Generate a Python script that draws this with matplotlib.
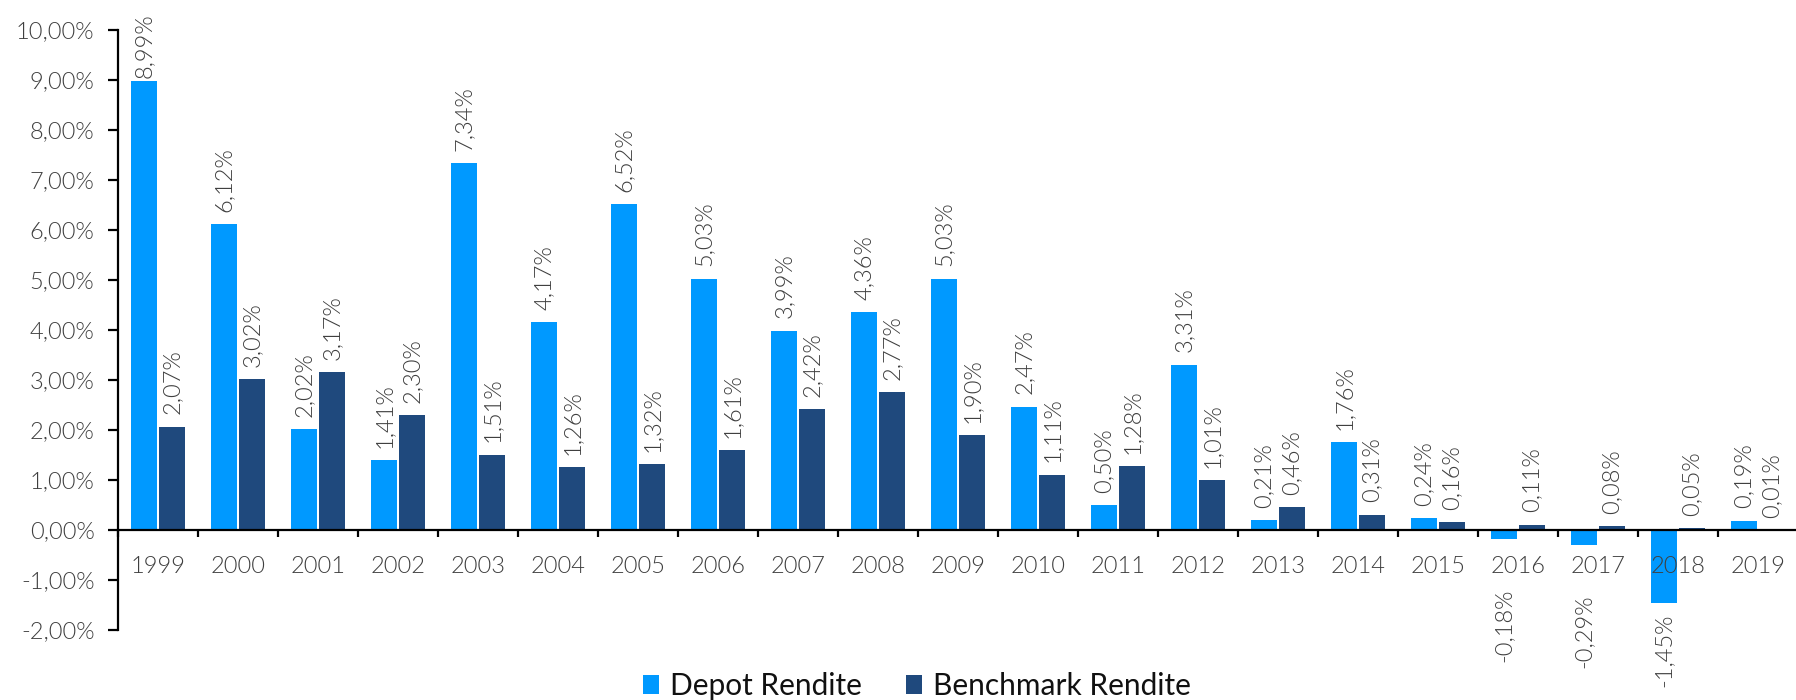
import matplotlib
matplotlib.use("Agg")
import matplotlib.pyplot as plt
import numpy as np
from matplotlib import font_manager as fm
from matplotlib.ticker import FixedLocator, FuncFormatter, NullFormatter
from matplotlib.patches import Patch

years = [str(y) for y in range(1999, 2020)]
depot = [8.99, 6.12, 2.02, 1.41, 7.34, 4.17, 6.52, 5.03, 3.99, 4.36, 5.03,
         2.47, 0.50, 3.31, 0.21, 1.76, 0.24, -0.18, -0.29, -1.45, 0.19]
bench = [2.07, 3.02, 3.17, 2.30, 1.51, 1.26, 1.32, 1.61, 2.42, 2.77, 1.90,
         1.11, 1.28, 1.01, 0.46, 0.31, 0.16, 0.11, 0.08, 0.05, 0.01]
series_names = ["Depot Rendite", "Benchmark Rendite"]
colors = ["#0099FF", "#1F497D"]

plt.rcParams['font.family'] = ['Lato', 'DejaVu Sans']

# locate Lato Light for the thin chart text
light_path = None
for f in fm.findSystemFonts():
    n = f.lower().replace('_', '-').split('/')[-1]
    if n.startswith('lato-light') and 'italic' not in n:
        light_path = f
        break
if light_path:
    fp_light = fm.FontProperties(fname=light_path, size=17)
else:
    fp_light = fm.FontProperties(family='Lato', size=17)

W, H = 1796, 700
fig = plt.figure(figsize=(W / 100, H / 100), dpi=100)
ax = fig.add_axes([118 / W, 1 - 630 / H, 1680 / W, 600 / H])

x = np.arange(len(years))
bw = 0.32
off = 0.175
ax.bar(x - off, depot, bw, color=colors[0], zorder=2)
ax.bar(x + off, bench, bw, color=colors[1], zorder=2)

def fmt(v):
    s = f"{abs(v):.2f}".replace('.', ',') + '%'
    return ('-' + s) if v < 0 else s

TXT = '#3f3f3f'
lab_kw = dict(rotation=90, ha='center', fontproperties=fp_light, color=TXT, zorder=3)
for xs, vals in ((x - off, depot), (x + off, bench)):
    for xi, v in zip(xs, vals):
        if v >= 0:
            y = min(v + 0.24, 9.03)
            ax.text(xi, y, fmt(v), va='bottom', **lab_kw)
        else:
            y = v - 1.0 if v > -1 else v - 0.22
            ax.text(xi, y, fmt(v), va='top', **lab_kw)

# category (year) labels below the zero line, drawn above the bars
for xi, yr in zip(x, years):
    ax.annotate(yr, (xi, 0), xytext=(0, -19), textcoords='offset points',
                ha='center', va='top', fontproperties=fp_light, color=TXT,
                zorder=5, annotation_clip=False)

for s in ('top', 'right'):
    ax.spines[s].set_visible(False)
ax.spines['left'].set_linewidth(1.6)
ax.spines['bottom'].set_linewidth(1.6)
ax.spines['bottom'].set_position(('data', 0))
ax.spines['bottom'].set_zorder(4)

ax.set_xlim(-0.5, len(years) - 0.5)
ax.set_ylim(-2, 10)
ax.yaxis.set_major_locator(FixedLocator(np.arange(-2, 10.5, 1)))
ax.yaxis.set_major_formatter(FuncFormatter(lambda v, p: fmt(v) if abs(v) > 1e-9 else "0,00%"))
ax.xaxis.set_major_locator(FixedLocator(np.arange(-0.5, len(years), 1)))
ax.xaxis.set_major_formatter(NullFormatter())

ax.tick_params(axis='y', which='major', direction='out', length=7, width=1.6,
               labelcolor=TXT, pad=10)
ax.tick_params(axis='x', which='major', direction='out', length=5, width=1.6)
for t in ax.get_yticklabels():
    t.set_fontproperties(fp_light)

handles = [Patch(facecolor=c, edgecolor='none') for c in colors]
fig.legend(handles, series_names, loc='center', ncol=2, frameon=False,
           bbox_to_anchor=(917 / W, 1 - 686 / H), fontsize=21.5,
           handlelength=0.53, handleheight=0.63, handletextpad=0.37,
           columnspacing=1.5, borderpad=0, labelcolor='#111111')

fig.savefig("out.png", dpi=100)
